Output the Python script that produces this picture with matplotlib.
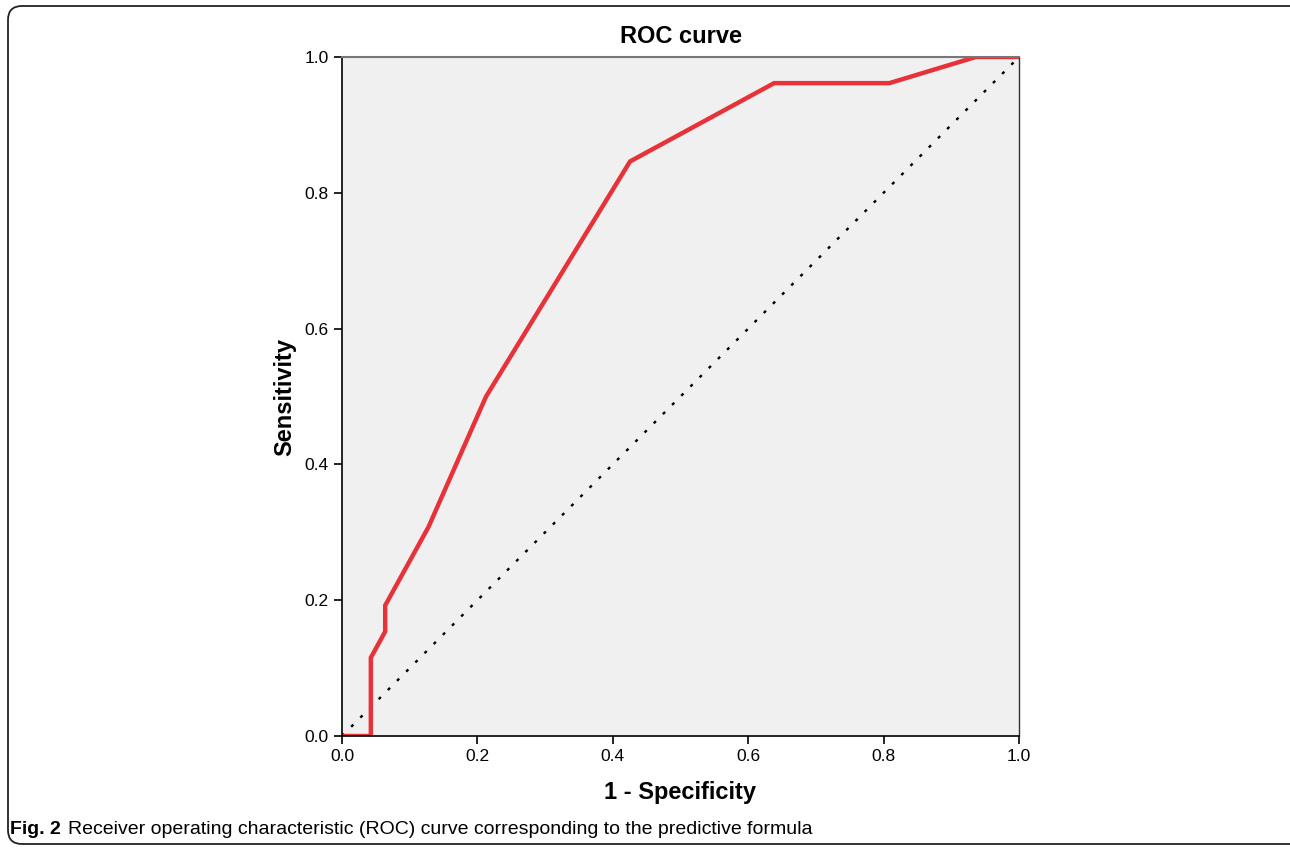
import matplotlib
matplotlib.use("Agg")
import matplotlib.pyplot as plt
from matplotlib.patches import FancyBboxPatch

# ROC curve points
fpr = [0.0, 0.0426, 0.0426, 0.0638, 0.0638, 0.1277, 0.2128, 0.4255, 0.6383, 0.8085, 0.9362, 1.0]
tpr = [0.0, 0.0, 0.1154, 0.1538, 0.1923, 0.3077, 0.5, 0.8462, 0.9615, 0.9615, 1.0, 1.0]
ref_line = [0.0, 1.0]
ticks = [0.0, 0.2, 0.4, 0.6, 0.8, 1.0]
tick_labels = ["0.0", "0.2", "0.4", "0.6", "0.8", "1.0"]

plt.rcParams['font.family'] = ['Liberation Sans Narrow', 'Liberation Sans', 'DejaVu Sans']

fig = plt.figure(figsize=(12.9, 8.48), dpi=100)

# rounded frame round the figure
frame = FancyBboxPatch((8, 4), 1300, 838, boxstyle="round,pad=0,rounding_size=14",
                       transform=None, fill=False, edgecolor="#222222", linewidth=1.3)
fig.patches.append(frame)

ax = fig.add_axes([342 / 1290, 112 / 848, 677 / 1290, 679 / 848])
ax.set_facecolor("#f0f0f0")

ax.plot(ref_line, ref_line, linestyle=(0, (1.3, 4.2)), color="black", linewidth=1.7)
ax.plot(fpr, tpr, color="#e8323a", linewidth=3.2, solid_joinstyle="miter")

ax.set_xlim(0, 1)
ax.set_ylim(0, 1)
ax.set_xticks(ticks)
ax.set_xticklabels(tick_labels)
ax.set_yticks(ticks)
ax.set_yticklabels(tick_labels)
ax.tick_params(direction="out", length=6, width=1.2, labelsize=12.5, colors="black")

for side in ["left", "bottom"]:
    ax.spines[side].set_color("black")
    ax.spines[side].set_linewidth(1.2)
ax.spines["top"].set_color("#777777")
ax.spines["top"].set_linewidth(1.5)
ax.spines["right"].set_color("#333333")
ax.spines["right"].set_linewidth(1.0)

ax.set_title("ROC curve", fontsize=17, fontweight="bold", pad=10)
ax.set_xlabel("1 - Specificity", fontsize=17, fontweight="bold", labelpad=12)
ax.set_ylabel("Sensitivity", fontsize=17, fontweight="bold", labelpad=6)

fig.text(10 / 1290, 1 - 830 / 848, "Fig. 2", fontsize=14, fontweight="bold", va="center")
fig.text(68 / 1290, 1 - 830 / 848,
         "Receiver operating characteristic (ROC) curve corresponding to the predictive formula",
         fontsize=14, va="center")

fig.savefig("out.png", dpi=100)
